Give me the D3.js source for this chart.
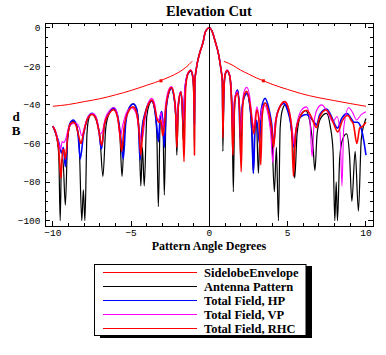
<!DOCTYPE html>
<html><head><meta charset="utf-8">
<script src="https://cdn.jsdelivr.net/npm/d3@7"></script>
<style>body{margin:0;background:#fff} svg{display:block}</style>
</head><body>
<svg id="c" width="386" height="355"></svg>
<script>
// ---------- data ----------
const chartTitle = "Elevation Cut";
const xLabel = "Pattern Angle Degrees";
const xTicks = [-10, -5, 0, 5, 10];
const yTicks = [0, -20, -40, -60, -80, -100];

const mainLobe = [[-0.93,-28],[-0.83,-21],[-0.66,-14.3],[-0.4,-7.4],[-0.26,-2.2],[0,0],[0.19,-2.2],[0.38,-7.4],[0.6,-14.3],[0.73,-21],[0.83,-28]];

const envelopeLeft = [[-10,-40.7],[-9,-39.8],[-8,-38.3],[-7,-36.8],[-6,-34.8],[-5,-32.5],[-4,-29.8],[-3,-27],[-2.5,-25.3],[-2,-23.3],[-1.5,-20.5],[-1.1,-17.4]];
const envelopeRight = [[0.92,-17.4],[1.5,-19.5],[2,-22],[2.5,-24],[3,-26],[3.45,-27.5],[4,-29.3],[5,-32],[5.8,-34],[7,-36.3],[8,-37.8],[9,-39.3],[10,-40.7]];
const envelopeMarks = [[-3.09,-27.5],[3.45,-27.5]];

const antennaLeft = [[-10,-51],[-9.8,-55],[-9.62,-66],[-9.53,-100],[-9.45,-70],[-9.36,-68],[-9.2,-92],[-9.05,-57],[-8.9,-50.5],[-8.7,-48.5],[-8.5,-50.5],[-8.32,-60],[-8.15,-100],[-8.05,-84],[-7.95,-100],[-7.82,-55],[-7.7,-47],[-7.5,-44.5],[-7.3,-46.5],[-7.0,-56],[-6.8,-77],[-6.62,-52],[-6.4,-44.5],[-6.12,-42],[-5.9,-45],[-5.72,-55],[-5.58,-77],[-5.42,-52],[-5.2,-43],[-4.88,-39.5],[-4.65,-42],[-4.5,-52],[-4.38,-82],[-4.28,-62],[-4.16,-82],[-4.0,-46],[-3.85,-40],[-3.68,-38],[-3.5,-42],[-3.36,-55],[-3.26,-92.7],[-3.15,-50],[-3.05,-43.5],[-2.96,-52],[-2.88,-86.7],[-2.76,-42],[-2.6,-34],[-2.42,-31.5],[-2.26,-36],[-2.14,-48],[-2.08,-66],[-1.98,-40],[-1.82,-33.5],[-1.74,-40],[-1.68,-58],[-1.56,-32],[-1.38,-24],[-1.19,-22.4],[-1.05,-26],[-0.98,-40],[-0.955,-62]];
const antennaRight = [[0.86,-64],[0.93,-32],[1.0,-24.5],[1.13,-22.4],[1.3,-25],[1.44,-40],[1.53,-85],[1.62,-38],[1.79,-32.3],[1.92,-40],[2.0,-69.4],[2.1,-41],[2.22,-36],[2.39,-34],[2.58,-40],[2.73,-58],[2.81,-75.4],[2.9,-52],[3.0,-48],[3.13,-75.4],[3.25,-48],[3.38,-41],[3.56,-39],[3.8,-44],[4.0,-58],[4.15,-85],[4.28,-62],[4.41,-100],[4.52,-52],[4.65,-43],[4.84,-40],[5.1,-45],[5.3,-58],[5.45,-78],[5.6,-55],[5.85,-45],[6.15,-43],[6.4,-48],[6.62,-62],[6.74,-74],[6.88,-55],[7.1,-47],[7.48,-44.4],[7.72,-51],[7.9,-64],[8.01,-100],[8.1,-80],[8.18,-100],[8.32,-68],[8.5,-58],[8.76,-55],[8.95,-66],[9.1,-90],[9.31,-64],[9.52,-95],[9.7,-58],[9.93,-48.7],[10,-47]];

const hpLeft = [[-10,-51],[-9.8,-55],[-9.6,-60],[-9.45,-65],[-9.33,-62],[-9.2,-72],[-9.05,-56],[-8.9,-49.5],[-8.7,-47.8],[-8.5,-50],[-8.38,-56],[-8.25,-68],[-8.05,-56],[-7.8,-47.5],[-7.5,-44.4],[-7.25,-46.5],[-7.05,-54],[-6.9,-63],[-6.7,-50],[-6.4,-44],[-6.12,-41.5],[-5.88,-45],[-5.7,-54],[-5.5,-68],[-5.35,-50],[-5.15,-42],[-4.85,-39.5],[-4.65,-42],[-4.52,-52],[-4.43,-68.5],[-4.3,-52],[-4.1,-44],[-3.9,-39.5],[-3.68,-38],[-3.5,-42],[-3.35,-52],[-3.26,-59],[-3.15,-47],[-3.05,-43.5],[-2.96,-50],[-2.88,-62],[-2.76,-42],[-2.6,-34],[-2.42,-31.5],[-2.26,-36],[-2.15,-45],[-2.1,-55],[-1.98,-40],[-1.82,-33.2],[-1.74,-40],[-1.68,-50],[-1.56,-32],[-1.38,-24],[-1.19,-22.4],[-1.05,-26],[-0.98,-38],[-0.955,-50]];
const hpRight = [[0.86,-50],[0.93,-32],[1.0,-24.5],[1.13,-22.4],[1.3,-25],[1.42,-38],[1.5,-55],[1.62,-38],[1.79,-32.3],[1.9,-40],[1.96,-57],[2.08,-42],[2.22,-36],[2.39,-34],[2.58,-40],[2.72,-55],[2.81,-75.4],[2.92,-52],[3.02,-48],[3.2,-60],[3.32,-42],[3.56,-36.6],[3.8,-42],[3.98,-50],[4.1,-60],[4.25,-48],[4.5,-41],[4.75,-39.2],[5.0,-43],[5.2,-50],[5.3,-57],[5.42,-62],[5.55,-52],[5.85,-46],[6.2,-45],[6.5,-47],[6.7,-49],[6.84,-50.4],[7.05,-45],[7.48,-42.1],[7.8,-46],[8.0,-50],[8.18,-52],[8.45,-47],[8.8,-44.5],[9.05,-47],[9.25,-49],[9.45,-49],[9.65,-51],[9.85,-58],[10,-66]];

const vpLeft = [[-10,-51],[-9.8,-54],[-9.62,-60],[-9.5,-63],[-9.4,-59],[-9.3,-59.5],[-9.15,-57],[-9.0,-52],[-8.75,-49.8],[-8.5,-49.5],[-8.3,-52],[-8.15,-56],[-8.0,-52],[-7.75,-46],[-7.45,-44.5],[-7.2,-47],[-7.0,-55],[-6.85,-54],[-6.65,-47],[-6.35,-42.5],[-6.1,-41.3],[-5.88,-44.5],[-5.7,-57],[-5.55,-51],[-5.3,-44],[-4.98,-41.5],[-4.7,-44],[-4.5,-52],[-4.32,-59],[-4.15,-50],[-3.95,-40],[-3.68,-36.6],[-3.48,-40],[-3.32,-48],[-3.2,-47],[-3.08,-44],[-2.95,-52],[-2.8,-40],[-2.62,-32.5],[-2.42,-30.5],[-2.26,-35],[-2.16,-45],[-2.1,-50],[-1.98,-38],[-1.82,-33],[-1.74,-39],[-1.68,-48],[-1.56,-31],[-1.38,-23.5],[-1.19,-21.8],[-1.05,-25],[-0.985,-35],[-0.955,-45]];
const vpRight = [[0.86,-45],[0.93,-31],[1.0,-24],[1.13,-21.8],[1.3,-24.5],[1.42,-36],[1.5,-60],[1.6,-37],[1.79,-33],[1.9,-40],[2.0,-55],[2.1,-40],[2.22,-33],[2.39,-30.9],[2.58,-36],[2.72,-46],[2.82,-52],[3.03,-41],[3.15,-45],[3.22,-48],[3.35,-42],[3.5,-40],[3.75,-45],[3.92,-55],[4.05,-70],[4.18,-50],[4.5,-41],[4.84,-38.3],[5.1,-43],[5.3,-53],[5.42,-60.8],[5.55,-52],[5.85,-43],[6.2,-41],[6.4,-46],[6.56,-66.8],[6.7,-48],[6.9,-42],[7.16,-40],[7.5,-43],[7.9,-48.7],[8.15,-46],[8.35,-55],[8.47,-82],[8.58,-52],[8.9,-41.5],[9.15,-44],[9.4,-47.8],[9.7,-45],[10,-43.5]];

const rhcLeft = [[-10,-51],[-9.8,-55],[-9.62,-63],[-9.48,-78],[-9.38,-64],[-9.3,-63],[-9.2,-68],[-9.05,-56],[-8.9,-50],[-8.7,-49],[-8.5,-51],[-8.35,-56],[-8.2,-60],[-8.05,-55],[-7.8,-47.5],[-7.5,-45],[-7.25,-47],[-7.05,-54],[-6.88,-61],[-6.7,-50],[-6.4,-44.5],[-6.12,-42.5],[-5.88,-46],[-5.72,-55],[-5.6,-64],[-5.45,-52],[-5.2,-44],[-4.88,-41],[-4.65,-44],[-4.5,-53],[-4.38,-66],[-4.25,-52],[-4.05,-43],[-3.85,-39],[-3.68,-37.5],[-3.5,-41],[-3.35,-47],[-3.2,-49],[-3.1,-48],[-2.98,-56],[-2.9,-52],[-2.76,-40],[-2.6,-33.5],[-2.42,-31],[-2.26,-35],[-2.15,-45],[-2.08,-62],[-1.98,-40],[-1.82,-33.5],[-1.72,-42],[-1.62,-69.4],[-1.52,-32],[-1.38,-24],[-1.19,-22],[-1.05,-26],[-0.98,-40],[-0.955,-66]];
const rhcRight = [[0.86,-57],[0.93,-32],[1.0,-24.5],[1.13,-22.2],[1.3,-25],[1.42,-40],[1.5,-66],[1.62,-38],[1.79,-34],[1.92,-42],[2.03,-74.6],[2.12,-42],[2.22,-35],[2.39,-33],[2.6,-40],[2.75,-50],[2.85,-55],[3.03,-42.5],[3.18,-50],[3.28,-71],[3.38,-45],[3.56,-39],[3.8,-44],[3.98,-52],[4.1,-62],[4.25,-48],[4.5,-41],[4.8,-38.3],[5.05,-42],[5.25,-52],[5.37,-77],[5.5,-55],[5.8,-46],[6.2,-42.8],[6.5,-46],[6.7,-50],[6.84,-51.8],[7.05,-46],[7.45,-42.6],[7.75,-46],[8.0,-51],[8.2,-54],[8.5,-48],[8.85,-45.5],[9.05,-48],[9.2,-50],[9.42,-60],[9.6,-52],[9.8,-51],[10,-49]];

const legendNames = ["SidelobeEnvelope", "Antenna Pattern", "Total Field, HP", "Total Field, VP", "Total Field, RHC"];
const legendColors = ["#ff0000", "#000000", "#0000ff", "#ff00ff", "#ff0000"];

// ---------- drawing ----------
const svg = d3.select("#c");
const L = 45, R = 373, T = 23.3, B = 226;
const x = d3.scaleLinear().domain([-10.5, 10.45]).range([L, R]);
const y = d3.scaleLinear().domain([-102.75, 2.3]).range([B, T]);

svg.append("rect").attr("width", 386).attr("height", 355).attr("fill", "#fff");

svg.append("defs").append("clipPath").attr("id", "clip")
  .append("rect").attr("x", L).attr("y", T).attr("width", R - L).attr("height", B - T);

const plot = svg.append("g").attr("clip-path", "url(#clip)");

// axis line at x = 0
plot.append("line").attr("x1", x(0)).attr("x2", x(0)).attr("y1", T).attr("y2", B)
  .attr("stroke", "#000").attr("stroke-width", 1).attr("shape-rendering", "crispEdges");

const lineGen = d3.line().x(d => x(d[0])).y(d => y(d[1])).curve(d3.curveMonotoneX);

// envelope
[envelopeLeft, envelopeRight].forEach(seg => {
  plot.append("path").attr("d", lineGen(seg)).attr("fill", "none")
    .attr("stroke", "#ff0000").attr("stroke-width", 1);
});
plot.selectAll("rect.mk").data(envelopeMarks).join("rect").attr("class", "mk")
  .attr("x", d => x(d[0]) - 1.5).attr("y", d => y(d[1]) - 1.5)
  .attr("width", 3).attr("height", 3).attr("fill", "#ff0000");

const series = [
  { data: antennaLeft.concat(mainLobe, antennaRight), color: "#000000", w: 1.2 },
  { data: hpLeft.concat(mainLobe, hpRight), color: "#0000ff", w: 1.6 },
  { data: vpLeft.concat(mainLobe, vpRight), color: "#ff00ff", w: 1.1 },
  { data: rhcLeft.concat(mainLobe, rhcRight), color: "#ff0000", w: 1.6 }
];
series.forEach(s => {
  plot.append("path").attr("d", lineGen(s.data)).attr("fill", "none")
    .attr("stroke", s.color).attr("stroke-width", s.w).attr("stroke-linejoin", "round");
});

// frame
svg.append("rect").attr("x", L).attr("y", T).attr("width", R - L).attr("height", B - T)
  .attr("fill", "none").attr("stroke", "#000").attr("stroke-width", 1).attr("shape-rendering", "crispEdges");

// ticks (inward, all sides)
const xMinor = d3.range(-10, 10.01, 1);
const yMinor = d3.range(-100, 0.01, 5);
const tg = svg.append("g").attr("stroke", "#000").attr("stroke-width", 1).attr("shape-rendering", "crispEdges");
xMinor.forEach(v => {
  const len = xTicks.includes(v) ? 5 : 3;
  tg.append("line").attr("x1", x(v)).attr("x2", x(v)).attr("y1", B).attr("y2", B - len);
  tg.append("line").attr("x1", x(v)).attr("x2", x(v)).attr("y1", T).attr("y2", T + len);
});
yMinor.forEach(v => {
  const len = yTicks.includes(v) ? 5 : 3;
  tg.append("line").attr("y1", y(v)).attr("y2", y(v)).attr("x1", L).attr("x2", L + len);
  tg.append("line").attr("y1", y(v)).attr("y2", y(v)).attr("x1", R).attr("x2", R - len);
});

const tickFont = "'Liberation Mono', 'DejaVu Sans Mono', monospace";
svg.append("g").selectAll("text").data(xTicks).join("text")
  .attr("x", d => x(d)).attr("y", 236.3).attr("text-anchor", "middle")
  .attr("font-family", tickFont).attr("font-size", 9.5).attr("fill", "#000")
  .text(d => d < 0 ? "\u2212" + Math.abs(d) : d);
svg.append("g").selectAll("text").data(yTicks).join("text")
  .attr("x", 40.5).attr("y", d => y(d) + 3.3).attr("text-anchor", "end")
  .attr("font-family", tickFont).attr("font-size", 9.5).attr("fill", "#000")
  .text(d => d < 0 ? "\u2212" + Math.abs(d) : d);

const serif = "'Liberation Serif', 'Times New Roman', serif";
svg.append("text").attr("x", 209).attr("y", 16).attr("text-anchor", "middle")
  .attr("font-family", serif).attr("font-weight", "bold").attr("font-size", 14.5).text(chartTitle);
svg.append("text").attr("x", 209).attr("y", 250).attr("text-anchor", "middle")
  .attr("font-family", serif).attr("font-weight", "bold").attr("font-size", 12).text(xLabel);
svg.append("text").attr("x", 16).attr("y", 120.5).attr("text-anchor", "middle")
  .attr("font-family", serif).attr("font-weight", "bold").attr("font-size", 13).text("d");
svg.append("text").attr("x", 16).attr("y", 135).attr("text-anchor", "middle")
  .attr("font-family", serif).attr("font-weight", "bold").attr("font-size", 13).text("B");

// legend
const lg = svg.append("g");
lg.append("rect").attr("x", 100).attr("y", 266).attr("width", 212).attr("height", 72).attr("fill", "#000");
lg.append("rect").attr("x", 94.5).attr("y", 264.5).attr("width", 211.5).attr("height", 71)
  .attr("fill", "#fff").attr("stroke", "#000").attr("stroke-width", 1);
const rowY = d3.scaleLinear().domain([0, 4]).range([272.5, 328.5]);
legendNames.forEach((name, i) => {
  lg.append("line").attr("x1", 103).attr("x2", 197).attr("y1", rowY(i)).attr("y2", rowY(i))
    .attr("stroke", legendColors[i]).attr("stroke-width", 1);
  lg.append("text").attr("x", 204).attr("y", rowY(i) + 4.5)
    .attr("font-family", serif).attr("font-weight", "bold").attr("font-size", 12.5).text(name);
});
</script>
</body></html>
